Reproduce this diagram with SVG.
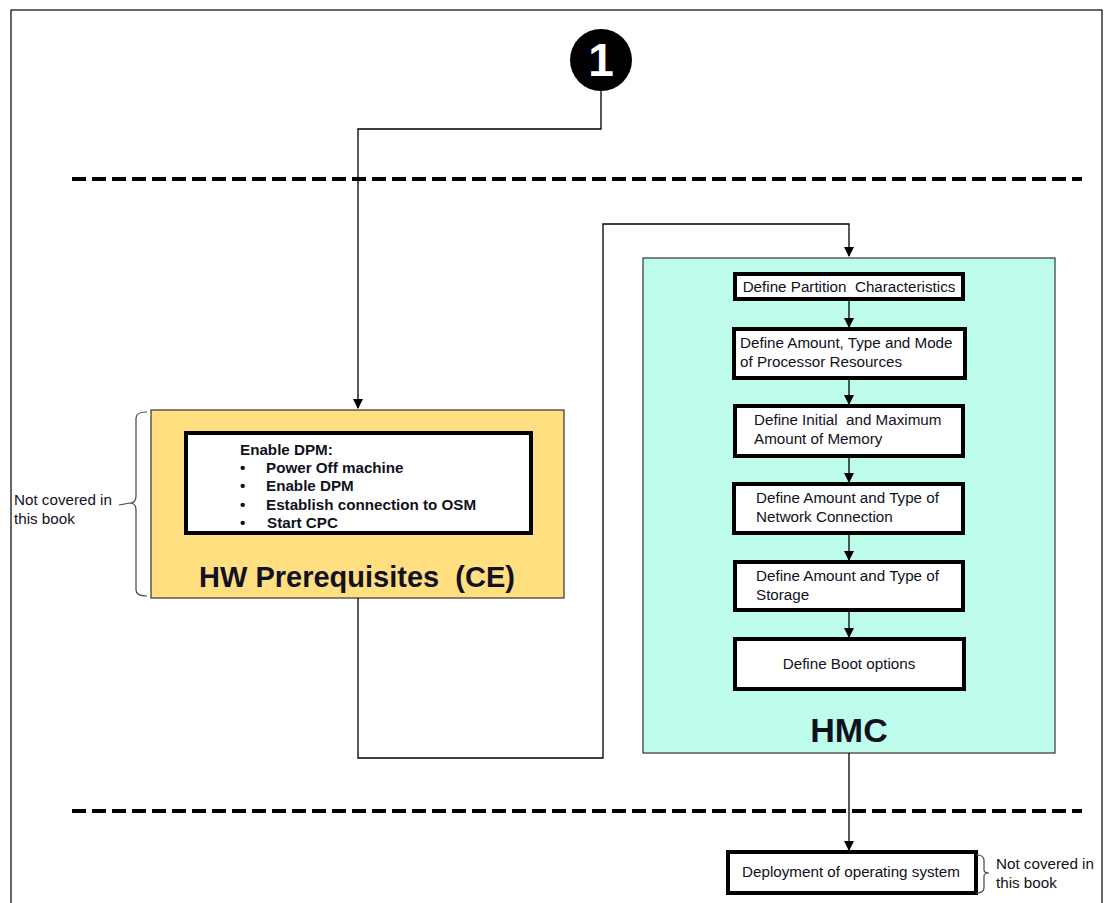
<svg xmlns="http://www.w3.org/2000/svg" width="1106" height="903" viewBox="0 0 1106 903">
<style>
.t{font-family:"Liberation Sans",Arial,sans-serif;font-size:15.2px;fill:#111122}
.b{font-weight:bold}
.box{fill:#fff;stroke:#000;stroke-width:4}
.c{fill:none;stroke:#000;stroke-width:1.3}
.dash{stroke:#000;stroke-width:4;stroke-dasharray:14 6}
.br{fill:none;stroke:#444;stroke-width:1.2}
</style>
<defs>
<marker id="ar" markerWidth="10" markerHeight="10" refX="9" refY="5" orient="auto" markerUnits="userSpaceOnUse">
<path d="M0,0 L10,5 L0,10 z" fill="#000"/>
</marker>
</defs>
<rect x="11" y="10" width="1091" height="900" fill="#fff" stroke="#000" stroke-width="1.2"/>
<line class="dash" x1="72" y1="179" x2="1082" y2="179"/>
<line class="dash" x1="72" y1="811" x2="1082" y2="811"/>
<g id="start">
<circle cx="601" cy="60" r="31" fill="#000"/>
<text x="601" y="76" text-anchor="middle" style="font-family:'Liberation Sans',Arial,sans-serif;font-size:46px;font-weight:bold;fill:#fff">1</text>
</g>
<g id="hw">
<rect x="151" y="410" width="413" height="188" fill="#FFDF80" stroke="#333" stroke-width="1.2"/>
<rect class="box" x="186" y="433" width="345" height="100"/>
<text class="t b" x="240" y="455">Enable DPM:</text>
<text class="t b" x="240" y="473">•</text><text class="t b" x="266" y="473">Power Off machine</text>
<text class="t b" x="240" y="491">•</text><text class="t b" x="266" y="491">Enable DPM</text>
<text class="t b" x="240" y="510">•</text><text class="t b" x="266" y="510">Establish connection to OSM</text>
<text class="t b" x="240" y="528">•</text><text class="t b" x="267" y="528">Start CPC</text>
<text class="t b" x="357" y="587" text-anchor="middle" xml:space="preserve" style="font-size:29px">HW Prerequisites  (CE)</text>
</g>
<g id="note1">
<path class="br" d="M147,412 Q136,412 136,418 L136,496 Q136,503 130,503 Q136,503 136,510 L136,590 Q136,596 147,596"/>
<path class="br" d="M119,505 L130,503"/>
<text class="t" x="14" y="505">Not covered in</text>
<text class="t" x="14" y="524">this book</text>
</g>
<g id="hmc">
<rect x="643" y="258" width="412" height="495" fill="#BEFDEB" stroke="#333" stroke-width="1.2"/>
<text class="t b" x="849" y="742" text-anchor="middle" style="font-size:34px">HMC</text>
</g>
<g id="n1"><rect class="box" x="735" y="274" width="228" height="25"/>
<text class="t" x="849" y="292" text-anchor="middle" xml:space="preserve">Define Partition  Characteristics</text></g>
<g id="n2"><rect class="box" x="734" y="329" width="231" height="49"/>
<text class="t" x="740" y="348">Define Amount, Type and Mode</text>
<text class="t" x="740" y="367">of Processor Resources</text></g>
<g id="n3"><rect class="box" x="735" y="406" width="228" height="50"/>
<text class="t" x="754" y="425" xml:space="preserve">Define Initial  and Maximum</text>
<text class="t" x="754" y="444">Amount of Memory</text></g>
<g id="n4"><rect class="box" x="734" y="484" width="229" height="49"/>
<text class="t" x="756" y="503">Define Amount and Type of</text>
<text class="t" x="756" y="522">Network Connection</text></g>
<g id="n5"><rect class="box" x="735" y="562" width="228" height="48"/>
<text class="t" x="756" y="581">Define Amount and Type of</text>
<text class="t" x="756" y="600">Storage</text></g>
<g id="n6"><rect class="box" x="735" y="639" width="229" height="50"/>
<text class="t" x="849" y="669" text-anchor="middle">Define Boot options</text></g>
<g id="deploy"><rect class="box" x="728" y="852" width="248" height="41"/>
<text class="t" x="851" y="877" text-anchor="middle">Deployment of operating system</text></g>
<g id="note2">
<path class="br" d="M976,855 Q984,855 984,860 L984,870 Q984,873 989,873 Q984,873 984,876 L984,888 Q984,893 976,893"/>
<text class="t" x="996" y="869">Not covered in</text>
<text class="t" x="996" y="888">this book</text>
</g>
<g id="connectors">
<path class="c" d="M601,91 L601,129 L358,129 L358,408" marker-end="url(#ar)"/>
<path class="c" d="M358,598 L358,758 L603,758 L603,224 L849,224 L849,256" marker-end="url(#ar)"/>
<path class="c" d="M849,299 L849,327" marker-end="url(#ar)"/>
<path class="c" d="M849,378 L849,404" marker-end="url(#ar)"/>
<path class="c" d="M849,456 L849,482" marker-end="url(#ar)"/>
<path class="c" d="M849,533 L849,560" marker-end="url(#ar)"/>
<path class="c" d="M849,610 L849,637" marker-end="url(#ar)"/>
<path class="c" d="M849,753 L849,850" marker-end="url(#ar)"/>
</g>
</svg>
